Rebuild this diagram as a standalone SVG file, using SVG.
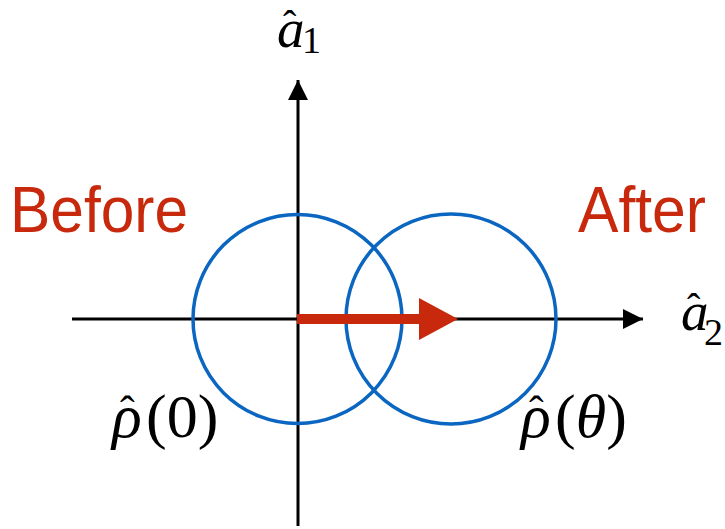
<svg xmlns="http://www.w3.org/2000/svg" width="725" height="529" viewBox="0 0 725 529">
<style>
.ax{stroke:#000;stroke-width:3;fill:none}
.circ{stroke:#0A66C0;stroke-width:3.5;fill:none}
.lbl{font-family:"Liberation Sans",Arial,sans-serif;font-size:65px;fill:#C8290C}
.m{font-family:"Liberation Serif","Times New Roman",serif;fill:#000}
.mi{font-style:italic}
</style>
<defs>
<marker id="ah" markerWidth="20" markerHeight="20" viewBox="0 0 20 20" refX="20" refY="10" markerUnits="userSpaceOnUse" orient="auto">
<path d="M0,0 L20,10 L0,20 Z" fill="#000"/>
</marker>
</defs>
<g id="connectors">
<line class="ax" x1="72" y1="319" x2="643" y2="319" marker-end="url(#ah)"/>
<line class="ax" x1="298" y1="526" x2="298" y2="80" marker-end="url(#ah)"/>
</g>
<g id="circle-before"><circle class="circ" cx="297.5" cy="319" r="104.5"/></g>
<g id="circle-after"><circle class="circ" cx="451" cy="319" r="105"/></g>
<g id="shift-arrow">
<rect x="297" y="314" width="124" height="10" fill="#C8290C"/>
<path d="M419,298 L458,319 L419,340 Z" fill="#C8290C"/>
</g>
<g id="label-before"><text class="lbl" x="10" y="232" textLength="178" lengthAdjust="spacingAndGlyphs">Before</text></g>
<g id="label-after"><text class="lbl" x="578" y="232" textLength="128" lengthAdjust="spacingAndGlyphs">After</text></g>
<g id="axis-a1">
<text class="m mi" x="277" y="47" font-size="55">a</text>
<text class="m" x="283" y="38" font-size="40">ˆ</text>
<text class="m" x="302" y="53" font-size="38">1</text>
</g>
<g id="axis-a2">
<text class="m mi" x="681" y="330" font-size="55">a</text>
<text class="m" x="687" y="321" font-size="40">ˆ</text>
<text class="m" x="704" y="345" font-size="38">2</text>
</g>
<g id="rho0">
<text class="m mi" x="112" y="437" font-size="62">ρ</text>
<text class="m" x="120" y="426" font-size="44">ˆ</text>
<text class="m" x="146" y="437" font-size="62">(0)</text>
</g>
<g id="rhotheta">
<text class="m mi" x="521" y="437" font-size="62">ρ</text>
<text class="m" x="529" y="426" font-size="44">ˆ</text>
<text class="m" x="555" y="437" font-size="62">(<tspan class="mi">θ</tspan>)</text>
</g>
</svg>
